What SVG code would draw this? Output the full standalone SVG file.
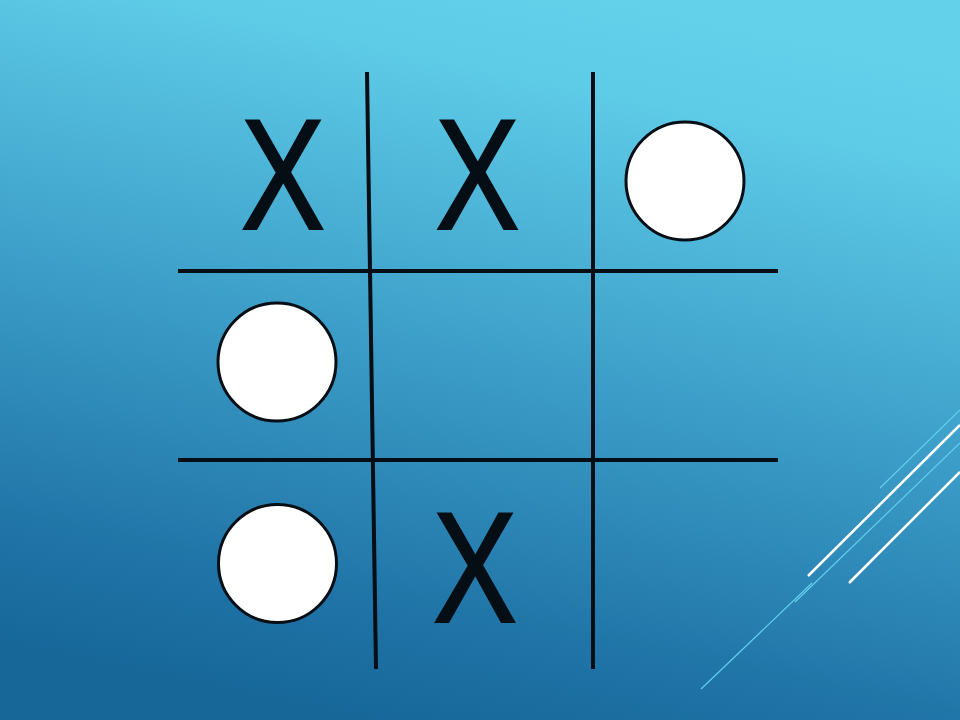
<svg xmlns="http://www.w3.org/2000/svg" width="960" height="720" viewBox="0 0 960 720">
  <defs>
    <linearGradient id="bg" x1="0.64" y1="0" x2="0.36" y2="1">
      <stop offset="0" stop-color="#63d1ea"/>
      <stop offset="0.12" stop-color="#5ecbe7"/>
      <stop offset="0.5" stop-color="#3c9ec8"/>
      <stop offset="0.85" stop-color="#1f73a6"/>
      <stop offset="1" stop-color="#176799"/>
    </linearGradient>
    <style>
      .grid { stroke: #050e15; stroke-width: 4; fill: none; }
      .o { fill: #ffffff; stroke: #050e15; stroke-width: 3; }
      .x { font-family: "Liberation Sans", Arial, sans-serif; font-size: 158px; fill: #050e15; stroke: #050e15; stroke-width: 2; text-anchor: middle; }
      .deco-w { stroke: #ffffff; stroke-width: 2.5; }
      .deco-c { stroke: #62d0ec; stroke-width: 1.2; }
    </style>
  </defs>
  <rect width="960" height="720" fill="url(#bg)"/>

  <g id="decoration">
    <line class="deco-c" x1="880" y1="488" x2="960" y2="410"/>
    <line class="deco-w" x1="808" y1="576" x2="960" y2="425"/>
    <line class="deco-c" x1="795" y1="602" x2="960" y2="443"/>
    <line class="deco-w" x1="849" y1="583" x2="960" y2="472"/>
    <line class="deco-c" x1="701" y1="689" x2="812" y2="583"/>
  </g>

  <g id="connectors">
    <line class="grid" x1="367" y1="72" x2="376" y2="669"/>
    <line class="grid" x1="593" y1="72" x2="593" y2="669"/>
    <line class="grid" x1="178" y1="271" x2="778" y2="271"/>
    <line class="grid" x1="178" y1="460" x2="778" y2="460"/>
  </g>

  <g id="cell-1-1"><text class="x" transform="translate(283,229) scale(0.8,1)">X</text></g>
  <g id="cell-1-2"><text class="x" transform="translate(477.5,229) scale(0.8,1)">X</text></g>
  <g id="cell-1-3"><circle class="o" cx="685" cy="181" r="59"/></g>
  <g id="cell-2-1"><circle class="o" cx="277" cy="362" r="59"/></g>
  <g id="cell-3-1"><circle class="o" cx="277.5" cy="563.5" r="59"/></g>
  <g id="cell-3-2"><text class="x" transform="translate(475,622) scale(0.8,1)">X</text></g>
</svg>
